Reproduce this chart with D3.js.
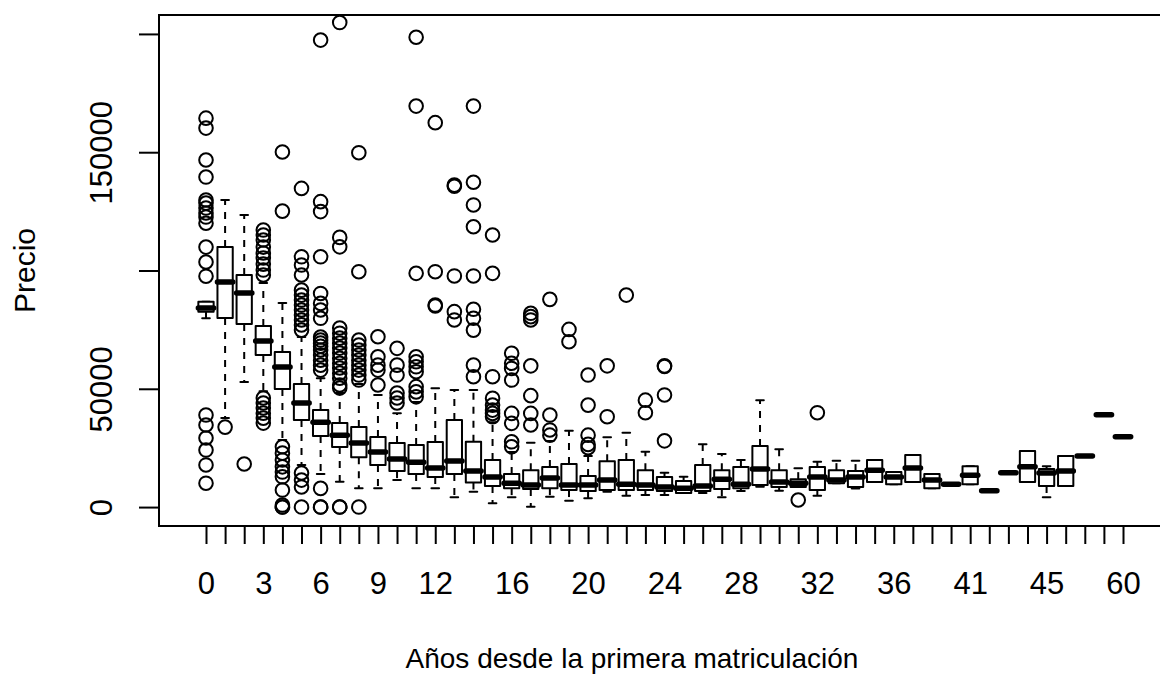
<!DOCTYPE html>
<html>
<head>
<meta charset="utf-8">
<script src="https://cdn.jsdelivr.net/npm/d3@7"></script>
<style>
  body { margin: 0; background: #fff; }
  svg { display: block; }
  text { font-family: "Liberation Sans", Arial, Helvetica, sans-serif; fill: #000; }
</style>
</head>
<body>
<svg id="chart" width="1160" height="676"></svg>
<script>
// Years since first registration (one box per value present in the data)
const years = [0,1,2,3,4,5,6,7,8,9,10,11,12,13,14,15,16,17,18,19,20,21,22,23,24,25,26,27,28,29,30,
  31,32,33,34,35,36,37,38,40,41,42,43,44,45,46,47,51,60];

// Five-number summaries of the price per group
const whiskerLow = [79800,37600,52900,49000,28300,17800,14000,10700,8000,8000,11400,8000,8000,4100,6500,1600,
  4100,100,4400,2700,3700,6500,4800,5100,5100,5900,6000,4100,6800,8600,6900,8500,4800,10100,7900,10600,9700,
  10600,8000,9500,9700,6900,14500,10600,4100,8900,21600,39000,29700];
const quartile1 = [82600,79900,77400,64300,49900,36800,30000,25400,21100,17800,15200,14000,12700,14000,10400,8900,
  8000,7600,8000,7200,6800,7200,7200,7200,6800,5900,6800,7600,8000,9300,8500,8500,7200,10100,8500,10600,9700,
  10600,8000,9500,9700,6900,14500,10600,8900,8900,21600,39000,29700];
const medians = [84100,95100,90500,70200,59200,44000,35900,30400,27100,23300,20300,19000,16500,19500,15300,12700,
  10100,9300,12300,9300,9300,11400,9700,9300,8500,8000,8900,11800,9700,16100,10600,10100,12700,11400,12700,15600,12700,
  16500,11400,9700,13500,6900,14500,17000,14400,15200,21600,39000,29700];
const quartile3 = [86800,109900,98100,76500,65500,52000,41000,35500,33800,29600,27100,26200,27500,36800,27600,19900,
  14000,15600,16900,18200,13100,19400,19900,15600,12700,11000,17800,15600,16900,25800,15600,11800,16900,15600,15200,19900,14800,
  22000,14000,9900,17300,6900,14500,23700,16100,21600,21600,39000,29700];
const whiskerHigh = [86800,129800,123500,94700,86300,71900,54500,48200,52000,47400,39700,44400,50200,49500,49500,35900,
  23300,27200,27900,32300,21600,29500,31400,23400,14500,12800,26600,22400,19900,45200,24400,16400,19200,19600,19600,19900,14800,
  22000,14000,9900,17300,6900,14500,23700,17300,21600,21600,39000,29700];

// Points beyond the whiskers, per group
const outliers = [
  [164400,160200,146700,139500,129800,128500,126400,124300,122600,120000,109900,103600,97600,38900,34700,29200,24100,17800,10100],
  [33800],
  [18200],
  [117100,115000,112900,109900,107400,105300,102700,100200,98100,46100,44000,41900,39700,37600,35500],
  [150100,125100,25500,22800,19900,17000,14800,12800,7200,850,0,0],
  [134700,105800,102300,98100,91700,89600,87500,85400,83300,81200,79100,77000,74800,14400,11400,8500,0],
  [197400,129100,124900,105800,90300,86100,83300,79800,71900,70600,69300,68000,66400,64300,62100,60000,57900,7900,0,0],
  [204800,114000,110000,75700,73500,71400,69300,67200,65100,62900,60800,58800,56600,54500,51600,50300,0,0],
  [149800,99500,70600,68500,66400,64300,62100,60000,57900,55800,53700,0],
  [72000,63500,60000,57900,51600],
  [67100,60000,55800,48200,46100,44000],
  [198600,169500,98800,63500,61400,59300,57200,50900,48700,46600],
  [162500,99500,85400,85000],
  [136100,135600,97700,82600,79100],
  [169500,137300,127700,118500,97700,83600,79800,74800,60000,55100],
  [115000,98800,55100,46000,43100,41000,39600,38200],
  [65000,60800,58600,53700,39600,35400,27600,25500],
  [81900,80500,79100,59700,47100,39600,34700],
  [87800,38900,32600,30400],
  [75100,69900],
  [55800,43100,30400,26500,25100],
  [59700,38200],
  [89600],
  [45200,39900],
  [59700,59400,47400,28000],
  [],[],[],[],[],[],
  [3000],
  [39900],
  [],[],[],[],[],[],[],[],[],[],[],[],[],[],[],[]
];

const priceTicks = [0, 50000, 100000, 150000, 200000];
const priceLimits = [0, 200000];
const xTitle = "Años desde la primera matriculación";
const yTitle = "Precio";

const svg = d3.select("#chart");
const plot = { left: 159, right: 1170, top: 15, bottom: 526 };
const fontSize = 31;
const xTitleSize = 28;
const yTitleSize = 30;
const lw = 2;

const n = years.length;
const xPad = n * 0.04;
const x = d3.scaleLinear()
  .domain([0.5 - xPad, n + 0.5 + xPad])
  .range([plot.left, plot.right]);
const yPad = (priceLimits[1] - priceLimits[0]) * 0.04;
const y = d3.scaleLinear()
  .domain([priceLimits[0] - yPad, priceLimits[1] + yPad])
  .range([plot.bottom, plot.top]);

const unit = x(2) - x(1);
const boxW = unit * 0.8;
const stapleW = boxW * 0.5;

const groups = years.map((yr, i) => ({
  pos: i + 1, year: yr,
  lo: whiskerLow[i], q1: quartile1[i], med: medians[i], q3: quartile3[i], hi: whiskerHigh[i],
  out: outliers[i] || []
}));

svg.append("clipPath").attr("id", "plotclip").append("rect")
  .attr("x", plot.left).attr("y", plot.top)
  .attr("width", plot.right - plot.left).attr("height", plot.bottom - plot.top);

const body = svg.append("g").attr("clip-path", "url(#plotclip)");

groups.forEach(g => {
  const cx = x(g.pos);
  const gg = body.append("g");
  // dashed whiskers
  [[g.q3, g.hi], [g.q1, g.lo]].forEach(([a, b]) => {
    if (a !== b) {
      gg.append("line")
        .attr("x1", cx).attr("x2", cx).attr("y1", y(a)).attr("y2", y(b))
        .attr("stroke", "#000").attr("stroke-width", lw).attr("stroke-dasharray", "7,7");
    }
  });
  // staples
  [g.hi, g.lo].forEach(v => {
    gg.append("line")
      .attr("x1", cx - stapleW / 2).attr("x2", cx + stapleW / 2)
      .attr("y1", y(v)).attr("y2", y(v))
      .attr("stroke", "#000").attr("stroke-width", lw).attr("stroke-linecap", "round");
  });
  // box
  gg.append("rect")
    .attr("x", cx - boxW / 2).attr("width", boxW)
    .attr("y", y(g.q3)).attr("height", Math.max(0, y(g.q1) - y(g.q3)))
    .attr("fill", "#fff").attr("stroke", "#000").attr("stroke-width", lw)
    .attr("stroke-linejoin", "round");
  // median
  gg.append("line")
    .attr("x1", cx - boxW / 2).attr("x2", cx + boxW / 2)
    .attr("y1", y(g.med)).attr("y2", y(g.med))
    .attr("stroke", "#000").attr("stroke-width", 5.5).attr("stroke-linecap", "round");
  // outlying points
  gg.selectAll("circle").data(g.out).join("circle")
    .attr("cx", cx).attr("cy", d => y(d)).attr("r", 6.8)
    .attr("fill", "none").attr("stroke", "#000").attr("stroke-width", lw);
});

// frame
svg.append("rect")
  .attr("x", plot.left).attr("y", plot.top)
  .attr("width", plot.right - plot.left).attr("height", plot.bottom - plot.top)
  .attr("fill", "none").attr("stroke", "#000").attr("stroke-width", lw);

// text measurement, used to skip labels that would collide
const probe = svg.append("text").attr("font-size", fontSize).attr("x", -1000).attr("y", -1000);
const measure = s => { probe.text(s); return probe.node().getComputedTextLength(); };
const gap = measure("m");

function visibleLabels(values, toPos, fmt) {
  const keep = new Set();
  let lastEnd = -Infinity;
  values.forEach(v => {
    const c = toPos(v), w = measure(fmt(v));
    if (c - w / 2 >= lastEnd + gap) { keep.add(v); lastEnd = c + w / 2; }
  });
  return keep;
}

// x axis
const xShown = visibleLabels(groups.map(g => g.pos), p => x(p), p => String(years[p - 1]));
const xAxis = d3.axisBottom(x)
  .tickValues(groups.map(g => g.pos))
  .tickSize(18)
  .tickFormat(p => xShown.has(p) ? String(years[p - 1]) : "");
const gX = svg.append("g").attr("transform", `translate(0,${plot.bottom})`).call(xAxis);
gX.select(".domain").attr("d", `M${x(1)},0H${x(n)}`).attr("stroke-width", lw);
gX.selectAll(".tick line").attr("stroke-width", lw);
gX.selectAll(".tick text").attr("font-size", fontSize).attr("font-family", null).attr("fill", "#000")
  .attr("dy", null).attr("y", 68);

// y axis
const yFmt = v => String(v);
const yShown = visibleLabels(priceTicks, v => -y(v), yFmt);
const yAxis = d3.axisLeft(y)
  .tickValues(priceTicks)
  .tickSize(20)
  .tickFormat(v => yShown.has(v) ? yFmt(v) : "");
const gY = svg.append("g").attr("transform", `translate(${plot.left},0)`).call(yAxis);
gY.select(".domain").attr("d", `M0,${y(priceTicks[0])}V${y(priceTicks[priceTicks.length - 1])}`).attr("stroke-width", lw);
gY.selectAll(".tick line").attr("stroke-width", lw);
gY.selectAll(".tick text")
  .attr("font-size", fontSize).attr("font-family", null).attr("fill", "#000")
  .attr("x", null).attr("dy", null).attr("text-anchor", "middle")
  .attr("transform", "translate(-47,0) rotate(-90)");

probe.remove();

// axis titles
svg.append("text")
  .attr("x", 632).attr("y", 668)
  .attr("text-anchor", "middle").attr("font-size", xTitleSize).text(xTitle);
svg.append("text")
  .attr("transform", `translate(35,${(plot.top + plot.bottom) / 2}) rotate(-90)`)
  .attr("text-anchor", "middle").attr("font-size", yTitleSize).text(yTitle);
</script>
</body>
</html>
